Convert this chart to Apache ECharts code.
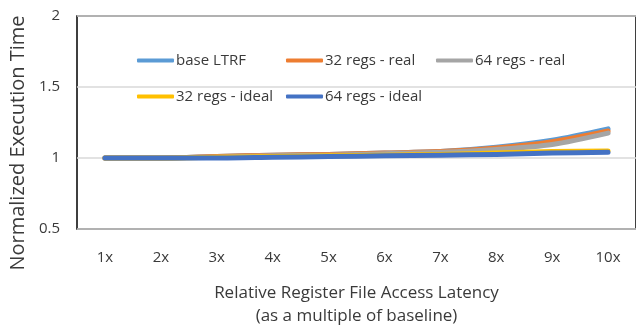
<!DOCTYPE html>
<html>
<head>
<meta charset="utf-8">
<script src="https://cdn.jsdelivr.net/npm/echarts@6/dist/echarts.min.js"></script>
<style>
  html, body { margin: 0; padding: 0; background: #fff; }
  #chart { width: 636px; height: 333px; }
</style>
</head>
<body>
<div id="chart"></div>
<script>
// Latency multipliers on the x axis
const categories = ['1x', '2x', '3x', '4x', '5x', '6x', '7x', '8x', '9x', '10x'];

// Normalized execution time per configuration
const baseLTRF     = [1.0, 1.0, 1.01, 1.02, 1.025, 1.035, 1.045, 1.075, 1.125, 1.205];
const regs32Real   = [1.0, 1.0, 1.01, 1.02, 1.025, 1.035, 1.045, 1.07, 1.115, 1.19];
const regs64Real   = [1.0, 1.0, 1.005, 1.015, 1.02, 1.03, 1.04, 1.06, 1.095, 1.175];
const regs32Ideal  = [1.0, 1.0, 1.005, 1.01, 1.015, 1.02, 1.025, 1.035, 1.045, 1.05];
const regs64Ideal  = [1.0, 1.0, 1.0, 1.005, 1.01, 1.015, 1.02, 1.025, 1.035, 1.04];

const yTicks = { min: 0.5, max: 2, interval: 0.5 };

const seriesDefs = [
  { name: 'base LTRF',       data: baseLTRF,    color: '#5B9BD5' },
  { name: '32 regs - real',  data: regs32Real,  color: '#ED7D31' },
  { name: '64 regs - real',  data: regs64Real,  color: '#A5A5A5' },
  { name: '32 regs - ideal', data: regs32Ideal, color: '#FFC000' },
  { name: '64 regs - ideal', data: regs64Ideal, color: '#4472C4' }
];

const FONT = '"Open Sans", "Noto Sans", sans-serif';
const TEXT = '#3a3a3a';

// One legend block per entry so the columns line up
const legendPos = [
  { left: 137, top: 53 },
  { left: 286, top: 53 },
  { left: 436, top: 53 },
  { left: 137, top: 89 },
  { left: 286, top: 89 }
];

const chart = echarts.init(document.getElementById('chart'), null, { renderer: 'canvas' });

chart.setOption({
  animation: false,
  backgroundColor: '#fff',
  grid: {
    left: 77, right: 0, top: 16, bottom: 92,
    show: true, borderColor: '#000', borderWidth: 1.5, containLabel: false
  },
  legend: seriesDefs.map((s, i) => ({
    data: [s.name],
    left: legendPos[i].left,
    top: legendPos[i].top,
    icon: 'roundRect',
    itemWidth: 37,
    itemHeight: 4,
    itemGap: 0,
    padding: 0,
    selectedMode: false,
    textStyle: { fontFamily: FONT, fontSize: 15, color: TEXT, padding: [0, 0, 0, -3] }
  })),
  graphic: [{
    type: 'text',
    x: 18,
    y: 143,
    rotation: Math.PI / 2,
    style: {
      text: 'Normalized Execution Time',
      fontFamily: FONT,
      fontSize: 20,
      fill: TEXT,
      align: 'center',
      verticalAlign: 'middle'
    }
  }],
  xAxis: {
    type: 'category',
    data: categories,
    boundaryGap: true,
    axisLine: { show: false },
    axisTick: { show: false },
    axisLabel: { fontFamily: FONT, fontSize: 15, color: TEXT, margin: 21 },
    name: 'Relative Register File Access Latency\n(as a multiple of baseline)',
    nameLocation: 'middle',
    nameGap: 53,
    nameTextStyle: { fontFamily: FONT, fontSize: 17, color: TEXT, lineHeight: 23 }
  },
  yAxis: {
    type: 'value',
    min: yTicks.min, max: yTicks.max, interval: yTicks.interval,
    axisLine: { show: false },
    axisTick: { show: false },
    splitLine: { lineStyle: { color: '#d9d9d9', width: 1.5 } },
    axisLabel: { fontFamily: FONT, fontSize: 15, color: TEXT, margin: 17 }
  },
  series: seriesDefs.map(s => ({
    name: s.name,
    type: 'line',
    data: s.data,
    smooth: 0.3,
    showSymbol: false,
    symbol: 'none',
    color: s.color,
    lineStyle: { color: s.color, width: 5, cap: 'round', join: 'round' }
  }))
});
</script>
</body>
</html>
